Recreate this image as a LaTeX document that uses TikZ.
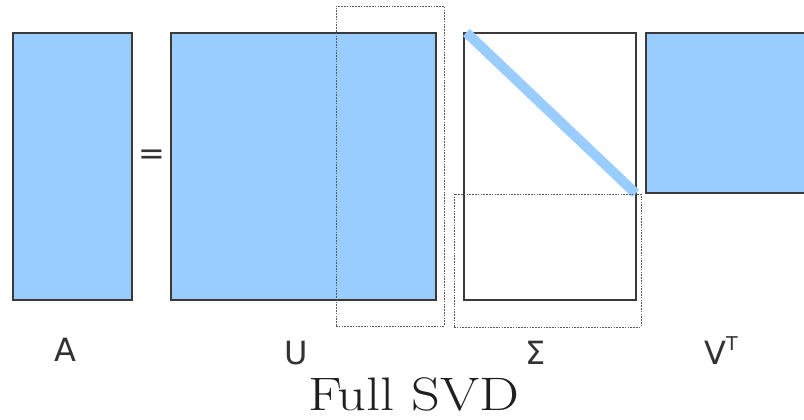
\documentclass[tikz,border=0pt]{standalone}
\usepackage{fontspec}
\newfontfamily\lblfont{DejaVu Sans}
\definecolor{mblue}{HTML}{99CCFF}
\definecolor{edge}{HTML}{3A3A3A}
\definecolor{txt}{HTML}{333333}
\begin{document}
\begin{tikzpicture}[x=1pt,y=-1pt,
  mat/.style={draw=edge,line width=1.1pt,anchor=north west,inner sep=0pt,outer sep=0pt},
  filled/.style={mat,fill=mblue},
  empty/.style={mat,fill=none},
  guide/.style={draw=edge!85,line width=0.8pt,dash pattern=on 1.6pt off 1.2pt,anchor=north west,inner sep=0pt,outer sep=0pt},
  lbl/.style={text=txt,anchor=base,inner sep=0pt,font=\lblfont\fontsize{32}{36}\selectfont}]
\useasboundingbox (0,0) rectangle (804,420);
\clip (0,0) rectangle (804,420);
\node[filled,minimum width=119pt,minimum height=267pt] (A) at (13,33) {};
\node[filled,minimum width=265pt,minimum height=267pt] (U) at (171,33) {};
\node[empty,minimum width=172pt,minimum height=267pt] (S) at (464,33) {};
\node[filled,minimum width=170pt,minimum height=160pt] (V) at (646,33) {};
\coordinate (d1) at (470,36);
\coordinate (d2) at (632,190);
\draw[mblue,line width=10pt,line cap=rect] (d1) -- (d2);
\node[guide,minimum width=108pt,minimum height=320pt] (Ug) at (336,6) {};
\node[guide,minimum width=187pt,minimum height=133pt] (Sg) at (454,194) {};
\node[text=txt,inner sep=0pt,font=\lblfont\fontsize{32}{36}\selectfont] (eq) at (152,157) {=};
\node[lbl] (la) at (65,361) {A};
\node[lbl] (lu) at (296,364) {U};
\node[lbl] (ls) at (535.5,364) {Σ};
\node[lbl] (lv) at (721,364) {V\raisebox{0.42em}{\fontsize{19}{22}\selectfont T}};
\node[anchor=base,inner sep=0pt,text=black!88,font=\fontsize{47}{52}\selectfont,xscale=1.2] (title) at (414,410) {Full SVD};
\end{tikzpicture}
\end{document}
